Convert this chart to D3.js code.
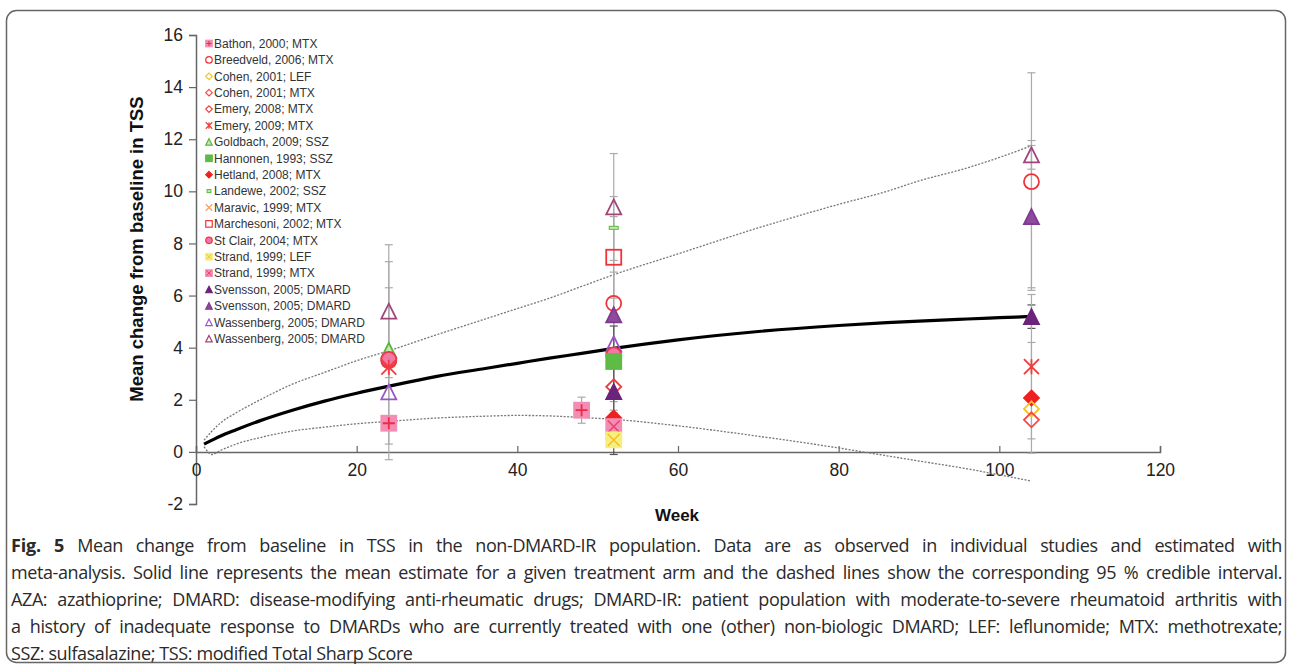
<!DOCTYPE html>
<html>
<head>
<meta charset="utf-8">
<script src="https://cdn.jsdelivr.net/npm/d3@7"></script>
<style>
  body { margin: 0; background: #fff; }
  #wrap { position: relative; width: 1292px; height: 670px; overflow: hidden; }
  svg { position: absolute; left: 0; top: 0; }
  #caption { position: absolute; left: 11px; top: 532px; width: 1271px;
    font-family: "Open Sans", sans-serif; font-size: 18px; letter-spacing: -0.4px;
    line-height: 27px; color: #2a2a2a; }
  #caption div { text-align: justify; text-align-last: justify; white-space: nowrap; }
  #caption div.last { text-align-last: left; }
  #caption b { font-weight: 700; letter-spacing: -0.2px; }
</style>
</head>
<body>
<div id="wrap">
  <svg id="chart" width="1292" height="670"></svg>
  <div id="caption"></div>
</div>
<script>
  var studies = [
    "Bathon, 2000; MTX", "Breedveld, 2006; MTX", "Cohen, 2001; LEF", "Cohen, 2001; MTX",
    "Emery, 2008; MTX", "Emery, 2009; MTX", "Goldbach, 2009; SSZ", "Hannonen, 1993; SSZ",
    "Hetland, 2008; MTX", "Landewe, 2002; SSZ", "Maravic, 1999; MTX", "Marchesoni, 2002; MTX",
    "St Clair, 2004; MTX", "Strand, 1999; LEF", "Strand, 1999; MTX", "Svensson, 2005; DMARD",
    "Svensson, 2005; DMARD", "Wassenberg, 2005; DMARD", "Wassenberg, 2005; DMARD"
  ];

  // observed points: study index, week, mean, error low, error high
  var observed = [
    [18, 24, 5.4, 2.85, 7.95],
    [6, 24, 3.9, null, null],
    [1, 24, 3.5, -0.3, 7.3],
    [12, 24, 3.55, null, null],
    [5, 24, 3.25, 0.3, 6.3],
    [17, 24, 2.3, null, null],
    [0, 24, 1.1, null, null],
    [0, 48, 1.6, 1.1, 2.1],
    [18, 52, 9.4, 7.35, 11.45],
    [9, 52, 8.6, null, null],
    [11, 52, 7.47, 5.9, 9.03],
    [1, 52, 5.7, 1.6, 9.8],
    [16, 52, 5.26, 3.62, 6.9],
    [17, 52, 4.15, null, null],
    [12, 52, 3.72, null, null],
    [7, 52, 3.47, 1.93, 5.0],
    [4, 52, 2.5, 1.5, 3.5],
    [15, 52, 2.31, -0.1, 4.83],
    [8, 52, 1.3, null, null],
    [14, 52, 0.97, null, null],
    [2, 52, 0.5, null, null],
    [13, 52, 0.46, null, null],
    [18, 104, 11.4, 10.85, 11.95],
    [1, 104, 10.37, 6.2, 14.55],
    [16, 104, 9.03, 6.3, 11.76],
    [15, 104, 5.19, 4.74, 5.64],
    [5, 104, 3.27, 0.5, 6.04],
    [8, 104, 2.07, -0.05, 4.2],
    [2, 104, 1.65, null, null],
    [3, 104, 1.23, null, null]
  ];

  // meta-analysis estimate and 95% credible interval
  var curveWeeks = [1, 2, 3, 5, 8, 12, 16, 20, 24, 30, 36, 40, 44, 48, 52, 60, 70, 80, 86, 90, 96, 100, 104];
  var meanEst   = [0.3, 0.45, 0.6, 0.85, 1.2, 1.6, 1.95, 2.25, 2.52, 2.9, 3.2, 3.4, 3.6, 3.78, 3.97, 4.3, 4.62, 4.85, 4.96, 5.02, 5.1, 5.15, 5.2];
  var upperCI   = [0.45, 0.8, 1.1, 1.5, 2.0, 2.6, 3.05, 3.5, 3.88, 4.5, 5.1, 5.5, 5.9, 6.35, 6.8, 7.6, 8.6, 9.5, 10.0, 10.4, 10.9, 11.3, 11.75];
  var lowerCI   = [0.2, -0.1, 0.05, 0.3, 0.55, 0.8, 0.95, 1.08, 1.17, 1.3, 1.37, 1.4, 1.38, 1.32, 1.25, 1.0, 0.6, 0.15, -0.15, -0.35, -0.65, -0.88, -1.12];

  var xTicks = [0, 20, 40, 60, 80, 100, 120];
  var yTicks = [-2, 0, 2, 4, 6, 8, 10, 12, 14, 16];

  var captionLines = [
    "<b>Fig. 5</b> Mean change from baseline in TSS in the non-DMARD-IR population. Data are as observed in individual studies and estimated with",
    "meta-analysis. Solid line represents the mean estimate for a given treatment arm and the dashed lines show the corresponding 95 % credible interval.",
    "AZA: azathioprine; DMARD: disease-modifying anti-rheumatic drugs; DMARD-IR: patient population with moderate-to-severe rheumatoid arthritis with",
    "a history of inadequate response to DMARDs who are currently treated with one (other) non-biologic DMARD; LEF: leflunomide; MTX: methotrexate;",
    "SSZ: sulfasalazine; TSS: modified Total Sharp Score"
  ];

  // marker look for each study (same order as studies)
  var styles = [
    {shape: "squarePlus", fill: "#f48db3", stroke: "#f48db3", mark: "#ee2b47"},
    {shape: "circle", fill: "none", stroke: "#f2323a"},
    {shape: "diamond", fill: "none", stroke: "#f5c518"},
    {shape: "diamond", fill: "none", stroke: "#f0484c"},
    {shape: "diamond", fill: "none", stroke: "#f03c3c"},
    {shape: "asterisk", fill: "none", stroke: "#f03c3c"},
    {shape: "triangle", fill: "#c6e8b4", stroke: "#5cb83c"},
    {shape: "square", fill: "#5dbb46", stroke: "#5dbb46"},
    {shape: "diamond", fill: "#ee2020", stroke: "#ee2020"},
    {shape: "dash", fill: "#c6e8b4", stroke: "#5cb83c"},
    {shape: "x", fill: "none", stroke: "#f5a060"},
    {shape: "square", fill: "none", stroke: "#f2323a"},
    {shape: "circle", fill: "#f07aa5", stroke: "#ee3450"},
    {shape: "squareX", fill: "#f7ee80", stroke: "#f7ee80", mark: "#f0c020"},
    {shape: "squareX", fill: "#f48db3", stroke: "#f48db3", mark: "#e8406a"},
    {shape: "triangle", fill: "#6b237b", stroke: "#6b237b"},
    {shape: "triangle", fill: "#8e4a9e", stroke: "#7e3a8e"},
    {shape: "triangle", fill: "none", stroke: "#9a55c8"},
    {shape: "triangle", fill: "none", stroke: "#a0457a"}
  ];

  var font = "Arial, 'Liberation Sans', sans-serif";
  var svg = d3.select("#chart");
  var x = d3.scaleLinear().domain([0, 120]).range([196, 1160]);
  var y = d3.scaleLinear().domain([-2, 16]).range([504, 35]);

  // figure frame
  svg.append("rect").attr("x", 6.5).attr("y", 10.5).attr("width", 1279).attr("height", 652)
    .attr("rx", 10).attr("fill", "none").attr("stroke", "#666").attr("stroke-width", 1.5);

  // axes
  var yAxis = svg.append("g").attr("transform", "translate(" + x(0) + ",0)")
    .call(d3.axisLeft(y).tickValues(yTicks).tickSize(7).tickPadding(6).tickFormat(function(d) { return String(d); }));
  var xAxis = svg.append("g").attr("transform", "translate(0," + y(0) + ")")
    .call(d3.axisBottom(x).tickValues(xTicks).tickSize(-6).tickPadding(12).tickFormat(function(d) { return String(d); }));
  [xAxis, yAxis].forEach(function(a) {
    a.select(".domain").attr("stroke", "#666").attr("stroke-width", 1.5);
    a.selectAll(".tick line").attr("stroke", "#666").attr("stroke-width", 1.2);
    a.selectAll("text").attr("font-family", font).attr("font-size", 17.5).attr("fill", "#222");
  });
  xAxis.selectAll(".tick text").attr("dy", "0.71em");

  svg.append("text").attr("transform", "translate(143,249) rotate(-90)")
    .attr("text-anchor", "middle").attr("font-family", font)
    .attr("font-size", 18.5).attr("font-weight", "bold").attr("fill", "#111")
    .text("Mean change from baseline in TSS");
  svg.append("text").attr("x", 677).attr("y", 521)
    .attr("text-anchor", "middle").attr("font-family", font)
    .attr("font-size", 17).attr("font-weight", "bold").attr("fill", "#111")
    .text("Week");

  // estimate curves
  var line = d3.line().curve(d3.curveMonotoneX);
  function pts(vals) { return curveWeeks.map(function(w, i) { return [x(w), y(vals[i])]; }); }
  [upperCI, lowerCI].forEach(function(v) {
    svg.append("path").attr("d", line(pts(v))).attr("fill", "none")
      .attr("stroke", "#777").attr("stroke-width", 1.3).attr("stroke-dasharray", "2,1.5");
  });
  svg.append("path").attr("d", line(pts(meanEst))).attr("fill", "none")
    .attr("stroke", "#000").attr("stroke-width", 3.2);

  // error bars
  var bars = observed.filter(function(d) { return d[3] !== null; });
  var eb = svg.append("g").selectAll("g").data(bars).enter().append("g")
    .attr("stroke", function(d) { return d[0] === 15 ? "#555" : "#aaa"; })
    .attr("stroke-width", 1.2);
  eb.append("line").attr("x1", function(d) { return x(d[1]); }).attr("x2", function(d) { return x(d[1]); })
    .attr("y1", function(d) { return y(d[3]); }).attr("y2", function(d) { return y(d[4]); });
  [3, 4].forEach(function(k) {
    eb.append("line").attr("x1", function(d) { return x(d[1]) - 4; }).attr("x2", function(d) { return x(d[1]) + 4; })
      .attr("y1", function(d) { return y(d[k]); }).attr("y2", function(d) { return y(d[k]); });
  });

  function drawMarker(g, st, s) {
    var h = s / 2;
    var sw = s > 10 ? 1.8 : 1.2;
    if (st.shape === "circle") {
      g.append("circle").attr("r", h).attr("fill", st.fill).attr("stroke", st.stroke).attr("stroke-width", sw);
    } else if (st.shape === "triangle") {
      g.append("path").attr("d", "M0," + (-h) + "L" + h + "," + h + "L" + (-h) + "," + h + "Z")
        .attr("fill", st.fill).attr("stroke", st.stroke).attr("stroke-width", sw).attr("stroke-linejoin", "miter");
    } else if (st.shape === "diamond") {
      g.append("path").attr("d", "M0," + (-h) + "L" + h + ",0L0," + h + "L" + (-h) + ",0Z")
        .attr("fill", st.fill).attr("stroke", st.stroke).attr("stroke-width", sw);
    } else if (st.shape === "square" || st.shape === "squareX" || st.shape === "squarePlus") {
      g.append("rect").attr("x", -h).attr("y", -h).attr("width", s).attr("height", s)
        .attr("fill", st.fill).attr("stroke", st.stroke).attr("stroke-width", sw);
      var k = h * 0.8;
      if (st.shape === "squareX") {
        g.append("path").attr("d", "M" + (-k) + "," + (-k) + "L" + k + "," + k + "M" + k + "," + (-k) + "L" + (-k) + "," + k)
          .attr("stroke", st.mark).attr("stroke-width", sw * 0.8);
      } else if (st.shape === "squarePlus") {
        g.append("path").attr("d", "M" + (-k) + ",0L" + k + ",0M0," + (-k) + "L0," + k)
          .attr("stroke", st.mark).attr("stroke-width", sw);
      }
    } else if (st.shape === "asterisk") {
      g.append("path").attr("d", "M" + (-h) + "," + (-h) + "L" + h + "," + h + "M" + h + "," + (-h) + "L" + (-h) + "," + h + "M0," + (-h) + "L0," + h)
        .attr("stroke", st.stroke).attr("stroke-width", sw);
    } else if (st.shape === "x") {
      g.append("path").attr("d", "M" + (-h) + "," + (-h) + "L" + h + "," + h + "M" + h + "," + (-h) + "L" + (-h) + "," + h)
        .attr("stroke", st.stroke).attr("stroke-width", sw);
    } else if (st.shape === "dash") {
      g.append("rect").attr("x", -h * 0.6).attr("y", -1.5).attr("width", s * 0.6).attr("height", 3)
        .attr("fill", st.fill).attr("stroke", st.stroke).attr("stroke-width", 1);
    }
  }

  // observed markers
  svg.append("g").selectAll("g").data(observed).enter().append("g")
    .attr("transform", function(d) { return "translate(" + x(d[1]) + "," + y(d[2]) + ")"; })
    .each(function(d) { drawMarker(d3.select(this), styles[d[0]], 15); });

  // legend
  var leg = svg.append("g").selectAll("g").data(studies).enter().append("g")
    .attr("transform", function(d, i) { return "translate(209," + (43.5 + i * 16.4) + ")"; });
  leg.each(function(d, i) { drawMarker(d3.select(this), styles[i], 6.5); });
  leg.append("text").attr("x", 5).attr("dy", "0.35em")
    .attr("font-family", font).attr("font-size", 12).attr("fill", "#333")
    .text(function(d) { return d; });

  // caption
  d3.select("#caption").selectAll("div").data(captionLines).enter().append("div")
    .classed("last", function(d, i) { return i === captionLines.length - 1; })
    .html(function(d) { return d; });
</script>
</body>
</html>
